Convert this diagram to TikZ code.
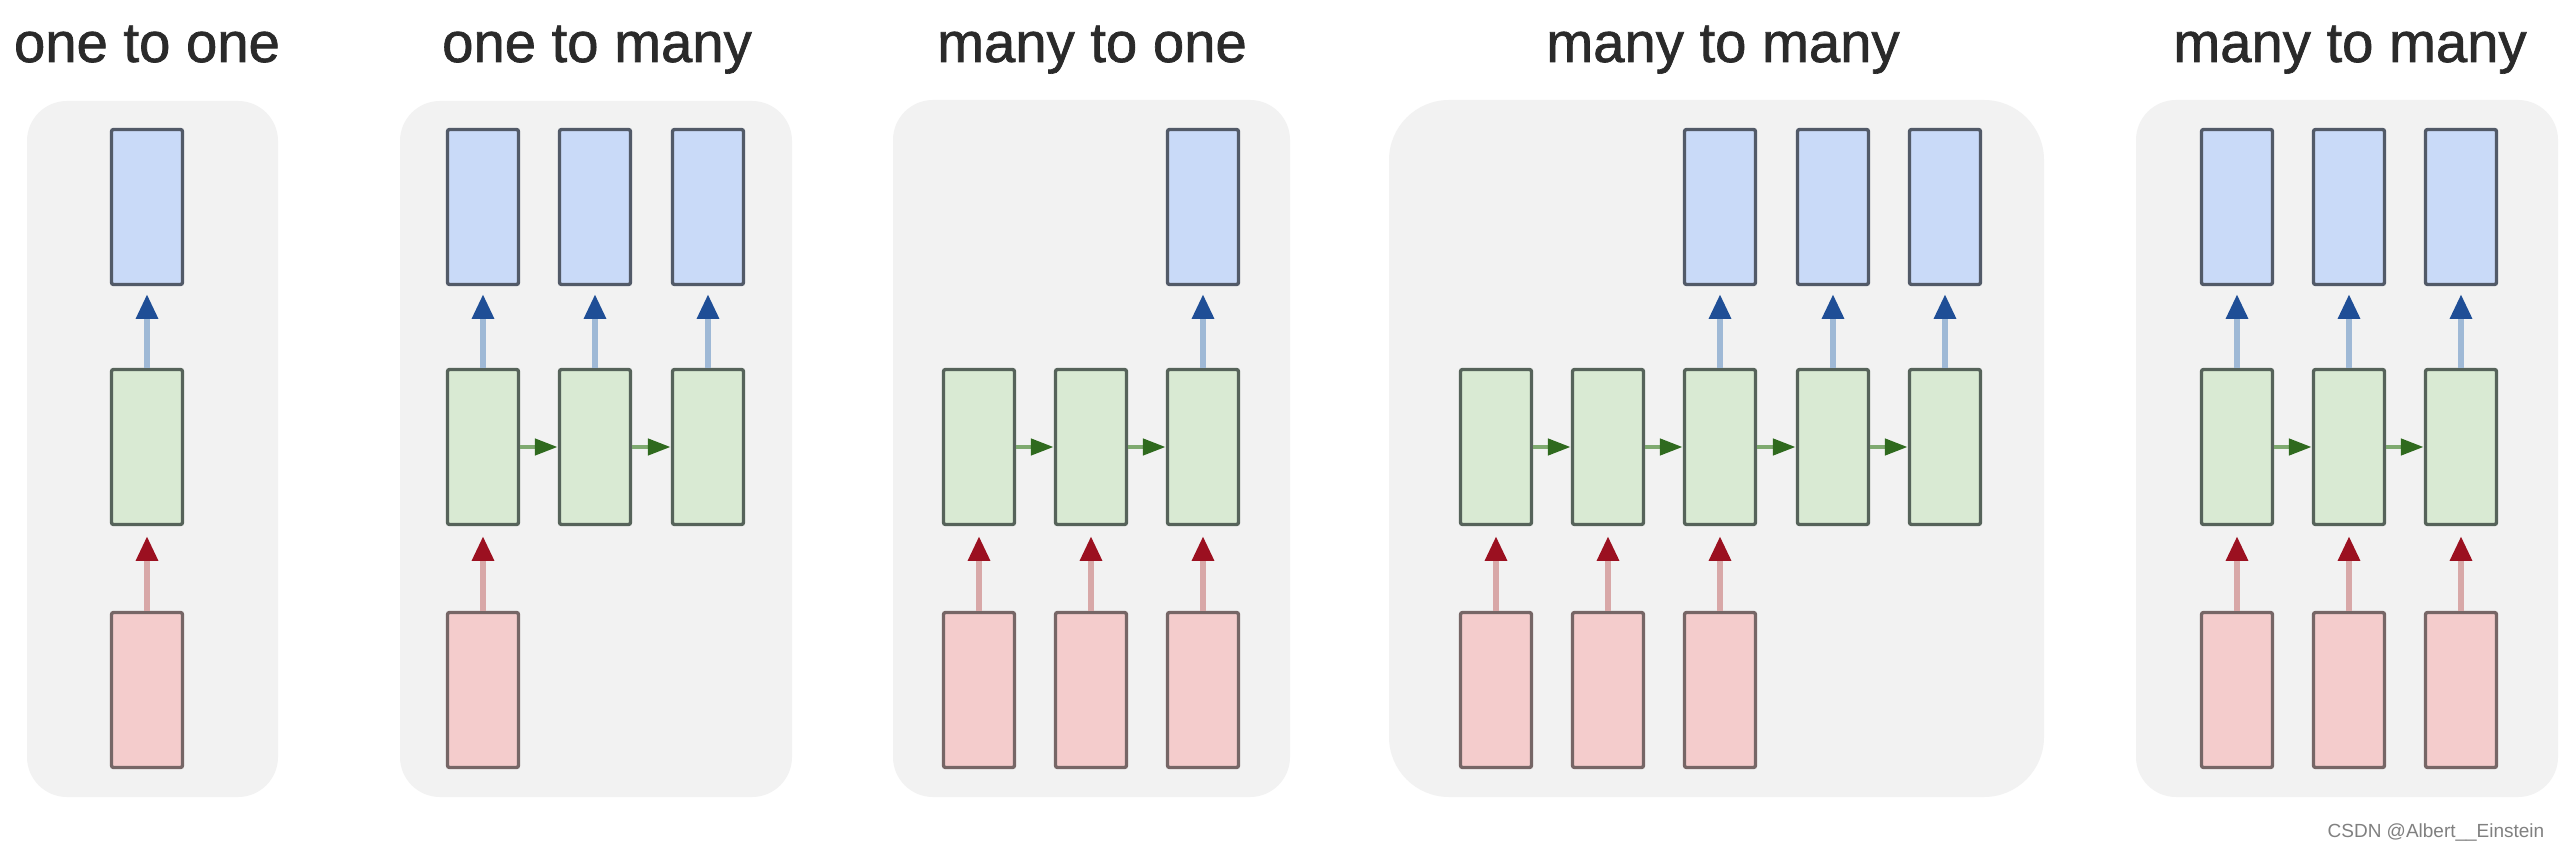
\documentclass[tikz,border=0pt]{standalone}
\usepackage{fontspec}
\setmainfont{Liberation Sans}
\usetikzlibrary{arrows.meta}
\definecolor{panelbg}{HTML}{F2F2F2}
\definecolor{boxblue}{HTML}{C9DAF8}
\definecolor{boxgreen}{HTML}{D9EAD3}
\definecolor{boxpink}{HTML}{F4CCCC}
\definecolor{edgeblue}{HTML}{525A68}
\definecolor{edgegreen}{HTML}{56635A}
\definecolor{edgepink}{HTML}{766666}
\definecolor{lineblue}{HTML}{9FB9D6}
\definecolor{headblue}{HTML}{1F4E96}
\definecolor{linered}{HTML}{D8A8A8}
\definecolor{headred}{HTML}{9B1020}
\definecolor{linegreen}{HTML}{7FAA70}
\definecolor{headgreen}{HTML}{2F6A1E}
\definecolor{titlegray}{HTML}{2A2A2A}
\tikzset{
  panel/.style={fill=panelbg, rounded corners=0.4cm},
  cell/.style={line width=0.95pt, rounded corners=0.6pt, minimum width=0.71cm, minimum height=1.55cm, inner sep=0pt},
  outbox/.style={cell, fill=boxblue, draw=edgeblue},
  rnnbox/.style={cell, fill=boxgreen, draw=edgegreen},
  inbox/.style={cell, fill=boxpink, draw=edgepink},
  outarrow/.style={draw=lineblue, line width=1.6pt, shorten >=0.08cm, -{Triangle[length=7pt,width=6pt,color=headblue]}},
  inarrow/.style={draw=linered, line width=1.6pt, shorten >=0.1cm, -{Triangle[length=7pt,width=6pt,color=headred]}},
  recarrow/.style={draw=linegreen, line width=1.3pt, -{Triangle[length=6.5pt,width=4.5pt,color=headgreen]}},
  title/.style={anchor=base, text=titlegray, font=\fontsize{16}{19}\selectfont\addfontfeature{FakeBold=1.2}}
}
\begin{document}
\begin{tikzpicture}[x=0.01cm,y=-0.01cm]
\useasboundingbox (0,0) rectangle (2560,849);
\fill[white] (0,0) rectangle (2560,849);
% panels
\fill[panel] (27,101) rectangle (278,797);
\fill[panel] (400,101) rectangle (792,797);
\fill[panel] (893,100) rectangle (1290,797);
\fill[panel, rounded corners=0.6cm] (1389,100) rectangle (2044,797);
\fill[panel] (2136,100) rectangle (2558,797);
% titles
\node[title] (t1) at (147,62) {one to one};
\node[title] (t2) at (597,62) {one to many};
\node[title] (t3) at (1092,62) {many to one};
\node[title] (t4) at (1723,62) {many to many};
\node[title] (t5) at (2350,62) {many to many};
% panel 1
\node[outbox] (a-b1) at (147,207) {};
\node[rnnbox] (a-g1) at (147,447) {};
\node[inbox]  (a-p1) at (147,690) {};
\draw[outarrow] (a-g1.north) -- (a-b1.south);
\draw[inarrow] (a-p1.north) -- (a-g1.south);
% panel 2
\foreach \i/\x in {1/483,2/595,3/708}{
  \node[outbox] (b-b\i) at (\x,207) {};
  \node[rnnbox] (b-g\i) at (\x,447) {};
  \draw[outarrow] (b-g\i.north) -- (b-b\i.south);
}
\node[inbox] (b-p1) at (483,690) {};
\draw[inarrow] (b-p1.north) -- (b-g1.south);
\draw[recarrow] (b-g1.east) -- (b-g2.west);
\draw[recarrow] (b-g2.east) -- (b-g3.west);
% panel 3
\foreach \i/\x in {1/979,2/1091,3/1203}{
  \node[rnnbox] (c-g\i) at (\x,447) {};
  \node[inbox] (c-p\i) at (\x,690) {};
  \draw[inarrow] (c-p\i.north) -- (c-g\i.south);
}
\node[outbox] (c-b3) at (1203,207) {};
\draw[outarrow] (c-g3.north) -- (c-b3.south);
\draw[recarrow] (c-g1.east) -- (c-g2.west);
\draw[recarrow] (c-g2.east) -- (c-g3.west);
% panel 4
\foreach \i/\x in {1/1496,2/1608,3/1720,4/1833,5/1945}{
  \node[rnnbox] (d-g\i) at (\x,447) {};
}
\foreach \i/\x in {1/1496,2/1608,3/1720}{
  \node[inbox] (d-p\i) at (\x,690) {};
  \draw[inarrow] (d-p\i.north) -- (d-g\i.south);
}
\foreach \i/\x in {3/1720,4/1833,5/1945}{
  \node[outbox] (d-b\i) at (\x,207) {};
  \draw[outarrow] (d-g\i.north) -- (d-b\i.south);
}
\foreach \i/\j in {1/2,2/3,3/4,4/5}{
  \draw[recarrow] (d-g\i.east) -- (d-g\j.west);
}
% panel 5
\foreach \i/\x in {1/2237,2/2349,3/2461}{
  \node[outbox] (e-b\i) at (\x,207) {};
  \node[rnnbox] (e-g\i) at (\x,447) {};
  \node[inbox] (e-p\i) at (\x,690) {};
  \draw[outarrow] (e-g\i.north) -- (e-b\i.south);
  \draw[inarrow] (e-p\i.north) -- (e-g\i.south);
}
\draw[recarrow] (e-g1.east) -- (e-g2.west);
\draw[recarrow] (e-g2.east) -- (e-g3.west);
% watermark
\node[anchor=base east, text=gray, font=\fontsize{5.4}{6}\selectfont, inner sep=0pt] (wm) at (2545,837) {CSDN @Albert\_\_Einstein};
\end{tikzpicture}
\end{document}
